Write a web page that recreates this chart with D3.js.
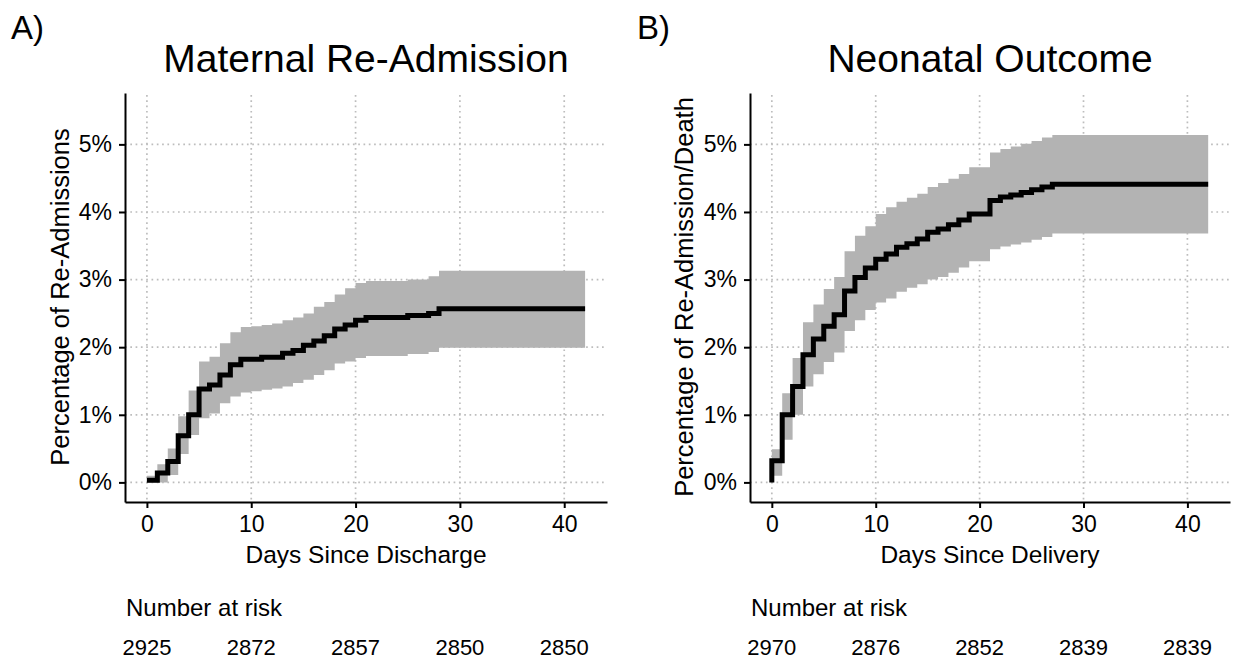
<!DOCTYPE html>
<html>
<head>
<meta charset="utf-8">
<script src="https://cdn.jsdelivr.net/npm/d3@7"></script>
<style>
  html, body { margin: 0; padding: 0; background: #fff; }
  svg { display: block; font-family: "Liberation Sans", Arial, sans-serif; }
</style>
</head>
<body>
<svg id="chart" width="1236" height="661"></svg>
<script>
// ---------- Data ----------
// Panel A: Maternal Re-Admission (step function by day)
const daysA  = [0, 1, 2, 3, 4, 5, 6, 7, 8, 9, 10, 11, 12, 13, 14, 15, 16, 17, 18, 19, 20, 21, 25, 27, 28, 42];
const estA   = [0.03, 0.14, 0.31, 0.69, 1.00, 1.38, 1.44, 1.59, 1.74, 1.82, 1.82, 1.85, 1.85, 1.91, 1.95, 2.03, 2.09, 2.17, 2.27, 2.33, 2.40, 2.44, 2.47, 2.50, 2.57, 2.57];
const upperA = [0.10, 0.27, 0.50, 0.98, 1.36, 1.79, 1.86, 2.06, 2.22, 2.30, 2.31, 2.33, 2.35, 2.40, 2.44, 2.50, 2.60, 2.67, 2.78, 2.87, 2.95, 2.98, 3.00, 3.05, 3.13, 3.13];
const lowerA = [0.00, 0.00, 0.11, 0.42, 0.70, 0.95, 1.02, 1.17, 1.27, 1.33, 1.35, 1.37, 1.39, 1.42, 1.47, 1.52, 1.59, 1.66, 1.76, 1.79, 1.84, 1.87, 1.90, 1.93, 1.99, 1.99];
const riskA  = [2925, 2872, 2857, 2850, 2850];

// Panel B: Neonatal Outcome
const daysB  = [0, 0, 1, 2, 3, 4, 5, 6, 7, 8, 9, 10, 11, 12, 13, 14, 15, 16, 17, 18, 19, 21, 22, 23, 24, 25, 26, 27, 42];
const estB   = [0.00, 0.32, 1.00, 1.42, 1.89, 2.12, 2.31, 2.48, 2.83, 3.03, 3.17, 3.30, 3.38, 3.48, 3.53, 3.60, 3.70, 3.75, 3.81, 3.88, 3.97, 4.17, 4.22, 4.25, 4.29, 4.33, 4.37, 4.41, 4.41];
const upperB = [0.00, 0.49, 1.32, 1.84, 2.37, 2.63, 2.86, 3.04, 3.42, 3.65, 3.79, 3.97, 4.07, 4.15, 4.21, 4.27, 4.37, 4.43, 4.49, 4.56, 4.66, 4.88, 4.93, 4.97, 5.01, 5.05, 5.10, 5.14, 5.14];
const lowerB = [0.00, 0.10, 0.63, 1.00, 1.42, 1.60, 1.78, 1.92, 2.24, 2.40, 2.55, 2.66, 2.72, 2.82, 2.88, 2.93, 3.00, 3.04, 3.10, 3.18, 3.27, 3.45, 3.49, 3.52, 3.55, 3.59, 3.63, 3.68, 3.68];
const riskB  = [2970, 2876, 2852, 2839, 2839];

const xTicks = [0, 10, 20, 30, 40];
const yTicks = [0, 1, 2, 3, 4, 5];

// ---------- Drawing ----------
const svg = d3.select("#chart");
const FONT = "'Liberation Sans', Arial, sans-serif";

function panel(cfg) {
  const x = d3.scaleLinear().domain([-2.1, 44.1]).range([cfg.left, cfg.right]);
  const y = d3.scaleLinear().domain([-0.29, 5.76]).range([502, 93]);
  const g = svg.append("g");

  const pts = cfg.days.map((d, i) => ({ d, e: cfg.est[i], u: cfg.upper[i], l: cfg.lower[i] }));

  // grid
  const grid = g.append("g").attr("stroke", "#bdbdbd").attr("stroke-width", 1.7)
    .attr("stroke-dasharray", "1.7,3.6").attr("fill", "none");
  grid.selectAll("line.h").data(yTicks).join("line")
    .attr("x1", cfg.left).attr("x2", cfg.right)
    .attr("y1", d => y(d)).attr("y2", d => y(d));
  grid.selectAll("line.v").data(xTicks).join("line")
    .attr("class", "v")
    .attr("x1", d => x(d)).attr("x2", d => x(d))
    .attr("y1", 95).attr("y2", 502);

  // band
  const area = d3.area().curve(d3.curveStepAfter)
    .x(p => x(p.d)).y0(p => y(p.l)).y1(p => y(p.u));
  g.append("path").datum(pts).attr("d", area).attr("fill", "#b3b3b3");

  // line
  const line = d3.line().curve(d3.curveStepAfter).x(p => x(p.d)).y(p => y(p.e));
  g.append("path").datum(pts).attr("d", line).attr("fill", "none")
    .attr("stroke", "#000").attr("stroke-width", 5).attr("stroke-linejoin", "miter");

  // axes
  const ya = g.append("g").attr("transform", `translate(${cfg.left},0)`)
    .call(d3.axisLeft(y).tickValues(yTicks).tickFormat(d => d + "%").tickSize(6).tickSizeOuter(0).tickPadding(7));
  const xa = g.append("g").attr("transform", `translate(0,502)`)
    .call(d3.axisBottom(x).tickValues(xTicks).tickSize(6).tickSizeOuter(0).tickPadding(8));
  [ya, xa].forEach(a => {
    a.select(".domain").attr("stroke", "#000").attr("stroke-width", 2);
    a.selectAll(".tick line").attr("stroke", "#000").attr("stroke-width", 2);
    a.selectAll(".tick text").attr("font-family", FONT).attr("font-size", 23).attr("fill", "#000");
  });

  // axis titles
  g.append("text").attr("x", (cfg.left + cfg.right) / 2).attr("y", 563)
    .attr("text-anchor", "middle").attr("font-family", FONT).attr("font-size", 24.5)
    .text(cfg.xTitle);
  g.append("text").attr("transform", `translate(${cfg.yTitleX},297) rotate(-90)`)
    .attr("text-anchor", "middle").attr("font-family", FONT).attr("font-size", 25.5)
    .text(cfg.yTitle);

  // titles
  g.append("text").attr("x", (cfg.left + cfg.right) / 2).attr("y", 72)
    .attr("text-anchor", "middle").attr("font-family", FONT).attr("font-size", 39)
    .text(cfg.title);
  g.append("text").attr("x", cfg.tagX).attr("y", 39)
    .attr("font-family", FONT).attr("font-size", 33)
    .text(cfg.tag);

  // number at risk
  g.append("text").attr("x", cfg.left + 1).attr("y", 616)
    .attr("font-family", FONT).attr("font-size", 24).text("Number at risk");
  g.selectAll("text.risk").data(cfg.risk).join("text")
    .attr("class", "risk")
    .attr("x", (d, i) => x(xTicks[i])).attr("y", 655)
    .attr("text-anchor", "middle").attr("font-family", FONT).attr("font-size", 22)
    .text(d => d);
}

panel({
  left: 125, right: 607, days: daysA, est: estA, upper: upperA, lower: lowerA, risk: riskA,
  title: "Maternal Re-Admission", tag: "A)", tagX: 11,
  xTitle: "Days Since Discharge", yTitle: "Percentage of Re-Admissions", yTitleX: 69
});
panel({
  left: 750, right: 1230, days: daysB, est: estB, upper: upperB, lower: lowerB, risk: riskB,
  title: "Neonatal Outcome", tag: "B)", tagX: 637,
  xTitle: "Days Since Delivery", yTitle: "Percentage of Re-Admission/Death", yTitleX: 693
});
</script>
</body>
</html>
